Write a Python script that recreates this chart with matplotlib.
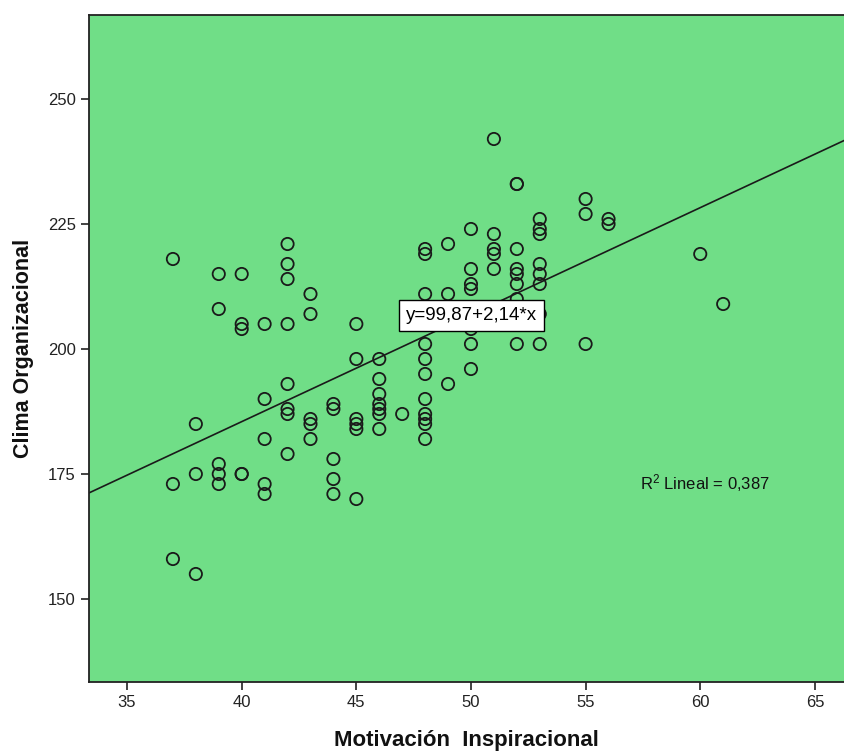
import matplotlib
matplotlib.use("Agg")
import matplotlib.pyplot as plt
from matplotlib import font_manager
import numpy as np

# Data
motivacion = (
    [37] * 3 + [38] * 3 + [39] * 5 + [40] * 5 + [41] * 5 + [42] * 8 + [43] * 5 +
    [44] * 5 + [45] * 6 + [46] * 7 + [47] * 1 + [48] * 11 + [49] * 3 + [50] * 7 +
    [51] * 5 + [52] * 8 + [53] * 8 + [55] * 3 + [56] * 2 + [60] * 1 + [61] * 1
)
clima = (
    [218, 173, 158] +
    [185, 175, 155] +
    [215, 208, 177, 175, 173] +
    [215, 205, 204, 175, 175] +
    [205, 190, 182, 173, 171] +
    [221, 217, 214, 205, 193, 188, 187, 179] +
    [211, 207, 186, 185, 182] +
    [189, 188, 178, 174, 171] +
    [205, 198, 186, 185, 184, 170] +
    [198, 194, 191, 189, 188, 187, 184] +
    [187] +
    [220, 219, 211, 201, 198, 195, 190, 187, 186, 185, 182] +
    [221, 211, 193] +
    [224, 216, 213, 212, 204, 201, 196] +
    [242, 223, 220, 219, 216] +
    [233, 233, 220, 216, 215, 213, 210, 201] +
    [226, 224, 223, 217, 215, 213, 207, 201] +
    [230, 227, 201] +
    [226, 225] +
    [219] +
    [209]
)
intercept = 99.87
slope = 2.14
eq_label = "y=99,87+2,14*x"
r2_label = r"R$^2$ Lineal = 0,387"
x_ticks = [35, 40, 45, 50, 55, 60, 65]
y_ticks = [150, 175, 200, 225, 250]
x_title = "Motivación  Inspiracional"
y_title = "Clima Organizacional"

plt.rcParams["font.family"] = ["Liberation Sans", "DejaVu Sans"]
plt.rcParams["mathtext.fontset"] = "custom"
plt.rcParams["mathtext.rm"] = "Liberation Sans"
plt.rcParams["mathtext.it"] = "Liberation Sans"

available = {f.name for f in font_manager.fontManager.ttflist}
if "Liberation Sans Narrow" in available:
    tick_family = "Liberation Sans Narrow"
    tick_size = 13
else:
    tick_family = "Liberation Sans"
    tick_size = 12

fig = plt.figure(figsize=(8.44, 7.51), dpi=100)
ax = fig.add_axes([89 / 844, 1 - 682 / 751, 1 - 89 / 844, (682 - 15) / 751])
ax.set_facecolor("#70DE87")

xlim = (33.34, 66.27)
ylim = (133.4, 266.8)
ax.set_xlim(*xlim)
ax.set_ylim(*ylim)

ax.scatter(motivacion, clima, s=78, facecolors="none", edgecolors="#1a1a1a",
           linewidths=1.3, zorder=3)

xl = np.array(xlim)
ax.plot(xl, intercept + slope * xl, color="#1a1a1a", linewidth=1.2, zorder=2)

ax.text(50.02, 206.7, eq_label, ha="center", va="center", fontsize=13.5,
        zorder=5,
        bbox=dict(boxstyle="square,pad=0.38", facecolor="white",
                  edgecolor="black", linewidth=1.0))
ax.text(57.37, 173.2, r2_label, ha="left", va="center", fontsize=12,
        color="#111111")

ax.set_xticks(x_ticks)
ax.set_yticks(y_ticks)
ax.tick_params(axis="both", direction="out", length=6, width=1.2,
               labelsize=tick_size, colors="#222222")
for lab in ax.get_xticklabels() + ax.get_yticklabels():
    lab.set_family(tick_family)
for side in ["left", "top", "bottom"]:
    ax.spines[side].set_linewidth(1.3)
    ax.spines[side].set_color("#222222")
ax.spines["right"].set_visible(False)

ax.set_xlabel(x_title, fontsize=16, fontweight="bold", labelpad=14,
              color="#111111")
ax.set_ylabel(y_title, fontsize=15.5, fontweight="bold", labelpad=10,
              color="#111111")

fig.savefig("out.png", dpi=100)
